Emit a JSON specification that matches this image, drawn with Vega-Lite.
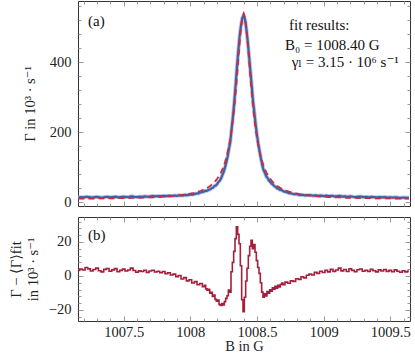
{
  "$schema": "https://vega.github.io/schema/vega-lite/v6.json",
  "padding": {"left": 8, "top": 0, "right": 6, "bottom": 0},
  "background": "white",
  "config": {
    "view": {"stroke": "#333", "strokeWidth": 1},
    "axis": {"domain": false, "grid": false, "labelFont": "Liberation Serif, DejaVu Serif, serif", "labelFontSize": 14.5, "labelColor": "#222", "titleFont": "Liberation Serif, DejaVu Serif, serif", "titleFontSize": 14.5, "titleFontWeight": "normal", "titleColor": "#222", "tickColor": "#999", "tickWidth": 1}
  },
  "datasets": {
    "m": [
      {"B":1007.16,"fit":9.68,"data":12.9,"res":3.2},
      {"B":1007.18,"fit":9.74,"data":13.8,"res":4.1},
      {"B":1007.20,"fit":9.80,"data":13.3,"res":3.5},
      {"B":1007.22,"fit":9.86,"data":14.9,"res":5.0},
      {"B":1007.24,"fit":9.92,"data":14.1,"res":4.2},
      {"B":1007.26,"fit":9.99,"data":12.9,"res":2.9},
      {"B":1007.28,"fit":10.06,"data":13.9,"res":3.8},
      {"B":1007.30,"fit":10.14,"data":14.7,"res":4.6},
      {"B":1007.32,"fit":10.22,"data":13.3,"res":3.1},
      {"B":1007.34,"fit":10.30,"data":12.7,"res":2.4},
      {"B":1007.36,"fit":10.39,"data":14.3,"res":3.9},
      {"B":1007.38,"fit":10.48,"data":14.9,"res":4.4},
      {"B":1007.40,"fit":10.58,"data":13.4,"res":2.8},
      {"B":1007.42,"fit":10.69,"data":14.3,"res":3.6},
      {"B":1007.44,"fit":10.80,"data":15.1,"res":4.3},
      {"B":1007.46,"fit":10.92,"data":13.4,"res":2.5},
      {"B":1007.48,"fit":11.05,"data":14.4,"res":3.3},
      {"B":1007.50,"fit":11.19,"data":15.2,"res":4.0},
      {"B":1007.52,"fit":11.33,"data":14.2,"res":2.9},
      {"B":1007.54,"fit":11.49,"data":15.0,"res":3.5},
      {"B":1007.56,"fit":11.66,"data":16.3,"res":4.6},
      {"B":1007.58,"fit":11.83,"data":15.0,"res":3.2},
      {"B":1007.60,"fit":12.03,"data":14.2,"res":2.2},
      {"B":1007.62,"fit":12.23,"data":15.2,"res":3.0},
      {"B":1007.64,"fit":12.46,"data":15.1,"res":2.6},
      {"B":1007.66,"fit":12.70,"data":16.1,"res":3.4},
      {"B":1007.68,"fit":12.96,"data":15.1,"res":2.1},
      {"B":1007.70,"fit":13.25,"data":16.2,"res":2.9},
      {"B":1007.72,"fit":13.56,"data":17.0,"res":3.4},
      {"B":1007.74,"fit":13.90,"data":16.2,"res":2.3},
      {"B":1007.76,"fit":14.27,"data":17.1,"res":2.8},
      {"B":1007.78,"fit":14.67,"data":16.6,"res":1.9},
      {"B":1007.80,"fit":15.12,"data":17.7,"res":2.6},
      {"B":1007.82,"fit":15.61,"data":17.0,"res":1.4},
      {"B":1007.84,"fit":16.15,"data":18.1,"res":1.9},
      {"B":1007.86,"fit":16.76,"data":17.4,"res":0.6},
      {"B":1007.88,"fit":17.43,"data":18.5,"res":1.1},
      {"B":1007.90,"fit":18.19,"data":17.8,"res":-0.4},
      {"B":1007.92,"fit":19.04,"data":19.3,"res":0.3},
      {"B":1007.94,"fit":20.00,"data":18.2,"res":-1.8},
      {"B":1007.96,"fit":21.08,"data":20.1,"res":-1.0},
      {"B":1007.98,"fit":22.32,"data":19.4,"res":-2.9},
      {"B":1008.00,"fit":23.75,"data":21.6,"res":-2.2},
      {"B":1008.02,"fit":25.39,"data":21.3,"res":-4.1},
      {"B":1008.04,"fit":27.31,"data":24.0,"res":-3.3},
      {"B":1008.06,"fit":29.55,"data":24.4,"res":-5.2},
      {"B":1008.08,"fit":32.20,"data":27.8,"res":-4.4},
      {"B":1008.10,"fit":35.36,"data":29.1,"res":-6.3},
      {"B":1008.11,"fit":37.18,"data":31.7,"res":-5.5},
      {"B":1008.12,"fit":39.18,"data":31.6,"res":-7.6},
      {"B":1008.13,"fit":41.38,"data":33.0,"res":-8.4},
      {"B":1008.14,"fit":43.81,"data":35.9,"res":-7.9},
      {"B":1008.15,"fit":46.52,"data":36.3,"res":-10.2},
      {"B":1008.16,"fit":49.54,"data":39.9,"res":-9.6},
      {"B":1008.17,"fit":52.92,"data":40.9,"res":-12.0},
      {"B":1008.18,"fit":56.72,"data":45.4,"res":-11.3},
      {"B":1008.19,"fit":61.0,"data":47.2,"res":-13.8},
      {"B":1008.20,"fit":65.84,"data":50.9,"res":-14.9},
      {"B":1008.21,"fit":71.35,"data":57.3,"res":-14.1},
      {"B":1008.22,"fit":77.63,"data":60.8,"res":-16.8},
      {"B":1008.23,"fit":84.83,"data":67.4,"res":-17.4},
      {"B":1008.24,"fit":93.15,"data":77.0,"res":-16.2},
      {"B":1008.25,"fit":102.78,"data":85.8,"res":-17.0},
      {"B":1008.26,"fit":114.0,"data":98.9,"res":-15.1},
      {"B":1008.27,"fit":127.1,"data":113.9,"res":-13.2},
      {"B":1008.28,"fit":142.5,"data":130.9,"res":-11.6},
      {"B":1008.29,"fit":160.8,"data":152.5,"res":-8.3},
      {"B":1008.30,"fit":182.3,"data":172.8,"res":-9.5},
      {"B":1008.31,"fit":207.8,"data":210.3,"res":2.5},
      {"B":1008.32,"fit":237.8,"data":245.8,"res":8.0},
      {"B":1008.33,"fit":273.0,"data":287.5,"res":14.5},
      {"B":1008.34,"fit":313.5,"data":335.5,"res":22.0},
      {"B":1008.35,"fit":358.9,"data":387.9,"res":29.0},
      {"B":1008.36,"fit":407.6,"data":432.1,"res":24.5},
      {"B":1008.37,"fit":455.8,"data":474.8,"res":19.0},
      {"B":1008.38,"fit":498.0,"data":504.0,"res":6.0},
      {"B":1008.39,"fit":527.4,"data":526.0,"res":-14.0},
      {"B":1008.40,"fit":538.0,"data":533.0,"res":-21.0},
      {"B":1008.41,"fit":527.4,"data":522.0,"res":-12.5},
      {"B":1008.42,"fit":498.0,"data":495.0,"res":-3.0},
      {"B":1008.43,"fit":455.8,"data":460.3,"res":4.5},
      {"B":1008.44,"fit":407.6,"data":419.6,"res":12.0},
      {"B":1008.45,"fit":358.9,"data":376.4,"res":17.5},
      {"B":1008.46,"fit":313.5,"data":334.5,"res":21.0},
      {"B":1008.47,"fit":273.0,"data":289.0,"res":16.0},
      {"B":1008.48,"fit":237.8,"data":256.3,"res":18.5},
      {"B":1008.49,"fit":207.8,"data":221.8,"res":14.0},
      {"B":1008.50,"fit":182.3,"data":191.3,"res":9.0},
      {"B":1008.51,"fit":160.8,"data":165.8,"res":5.0},
      {"B":1008.52,"fit":142.5,"data":144.0,"res":1.5},
      {"B":1008.53,"fit":127.1,"data":123.1,"res":-4.0},
      {"B":1008.54,"fit":114.0,"data":104.5,"res":-9.5},
      {"B":1008.55,"fit":102.78,"data":90.3,"res":-12.5},
      {"B":1008.56,"fit":93.15,"data":82.7,"res":-10.5},
      {"B":1008.57,"fit":84.83,"data":73.0,"res":-11.8},
      {"B":1008.58,"fit":77.63,"data":68.4,"res":-9.2},
      {"B":1008.59,"fit":71.35,"data":61.3,"res":-10.1},
      {"B":1008.60,"fit":65.84,"data":57.6,"res":-8.2},
      {"B":1008.61,"fit":61.0,"data":52.1,"res":-8.9},
      {"B":1008.62,"fit":56.72,"data":49.7,"res":-7.0},
      {"B":1008.63,"fit":52.92,"data":45.1,"res":-7.8},
      {"B":1008.64,"fit":49.54,"data":43.4,"res":-6.1},
      {"B":1008.65,"fit":46.52,"data":39.3,"res":-7.2},
      {"B":1008.66,"fit":43.81,"data":38.3,"res":-5.5},
      {"B":1008.67,"fit":41.38,"data":35.0,"res":-6.4},
      {"B":1008.68,"fit":39.18,"data":34.2,"res":-5.0},
      {"B":1008.69,"fit":37.18,"data":33.0,"res":-4.2},
      {"B":1008.70,"fit":35.36,"data":30.3,"res":-5.1},
      {"B":1008.72,"fit":32.20,"data":28.6,"res":-3.6},
      {"B":1008.74,"fit":29.55,"data":25.3,"res":-4.3},
      {"B":1008.76,"fit":27.31,"data":24.4,"res":-2.9},
      {"B":1008.78,"fit":25.39,"data":22.2,"res":-3.2},
      {"B":1008.80,"fit":23.75,"data":22.2,"res":-1.6},
      {"B":1008.82,"fit":22.32,"data":20.3,"res":-2.0},
      {"B":1008.84,"fit":21.08,"data":20.6,"res":-0.5},
      {"B":1008.86,"fit":20.00,"data":18.9,"res":-1.1},
      {"B":1008.88,"fit":19.04,"data":19.4,"res":0.4},
      {"B":1008.90,"fit":18.19,"data":19.4,"res":1.2},
      {"B":1008.92,"fit":17.43,"data":18.0,"res":0.6},
      {"B":1008.94,"fit":16.76,"data":18.9,"res":2.1},
      {"B":1008.96,"fit":16.15,"data":17.7,"res":1.5},
      {"B":1008.98,"fit":15.61,"data":18.4,"res":2.8},
      {"B":1009.00,"fit":15.12,"data":17.1,"res":2.0},
      {"B":1009.02,"fit":14.67,"data":18.0,"res":3.3},
      {"B":1009.04,"fit":14.27,"data":16.7,"res":2.4},
      {"B":1009.06,"fit":13.90,"data":17.8,"res":3.9},
      {"B":1009.08,"fit":13.56,"data":16.3,"res":2.7},
      {"B":1009.10,"fit":13.25,"data":16.8,"res":3.5},
      {"B":1009.12,"fit":12.96,"data":17.6,"res":4.6},
      {"B":1009.14,"fit":12.70,"data":15.7,"res":3.0},
      {"B":1009.16,"fit":12.46,"data":16.3,"res":3.8},
      {"B":1009.18,"fit":12.23,"data":14.8,"res":2.6},
      {"B":1009.20,"fit":12.03,"data":16.2,"res":4.2},
      {"B":1009.22,"fit":11.83,"data":15.1,"res":3.3},
      {"B":1009.24,"fit":11.66,"data":14.2,"res":2.5},
      {"B":1009.26,"fit":11.49,"data":15.2,"res":3.7},
      {"B":1009.28,"fit":11.33,"data":15.4,"res":4.1},
      {"B":1009.30,"fit":11.19,"data":14.0,"res":2.8},
      {"B":1009.32,"fit":11.05,"data":14.5,"res":3.4},
      {"B":1009.34,"fit":10.92,"data":13.5,"res":2.6},
      {"B":1009.36,"fit":10.80,"data":14.7,"res":3.9},
      {"B":1009.38,"fit":10.69,"data":13.8,"res":3.1},
      {"B":1009.40,"fit":10.58,"data":13.0,"res":2.4},
      {"B":1009.42,"fit":10.48,"data":14.1,"res":3.6},
      {"B":1009.44,"fit":10.39,"data":13.3,"res":2.9},
      {"B":1009.46,"fit":10.30,"data":14.1,"res":3.8},
      {"B":1009.48,"fit":10.22,"data":12.9,"res":2.7},
      {"B":1009.50,"fit":10.14,"data":13.4,"res":3.3},
      {"B":1009.52,"fit":10.06,"data":12.6,"res":2.5},
      {"B":1009.54,"fit":9.99,"data":13.6,"res":3.6},
      {"B":1009.56,"fit":9.92,"data":12.7,"res":2.8},
      {"B":1009.58,"fit":9.86,"data":12.1,"res":2.2},
      {"B":1009.60,"fit":9.80,"data":12.9,"res":3.1},
      {"B":1009.62,"fit":9.74,"data":12.1,"res":2.4},
      {"B":1009.64,"fit":9.68,"data":12.6,"res":2.9}
    ],
    "notesA": [
      {"B":1008.74,"G":506,"label":"fit results:"},
      {"B":1008.71,"G":449,"label":"B₀ = 1008.40 G"},
      {"B":1008.76,"G":400,"label":"γₗ = 3.15 · 10⁶ s⁻¹"}
    ],
    "panelA": [{"B":1007.232,"G":517,"label":"(a)"}],
    "panelB": [{"B":1007.232,"R":24,"label":"(b)"}]
  },
  "vconcat": [
    {
      "width": 332,
      "height": 205,
      "resolve": {"axis": {"x": "independent", "y": "independent"}},
      "layer": [
        {
          "data": {"name": "m"},
          "mark": {"type": "line", "color": "#bcc7e0", "strokeWidth": 4, "clip": true},
          "encoding": {
            "x": {"field": "B", "type": "quantitative", "scale": {"domain": [1007.157, 1009.648], "nice": false, "zero": false},
                  "axis": {"orient": "bottom", "values": [1007.5, 1008, 1008.5, 1009, 1009.5], "labels": false, "tickSize": -5, "title": null}},
            "y": {"field": "data", "type": "quantitative", "scale": {"domain": [-11.4, 574.3], "nice": false, "zero": false},
                  "axis": {"orient": "left", "values": [0, 200, 400], "ticks": false, "labelPadding": 7, "title": "Γ in 10³ · s⁻¹", "titlePadding": 12}}
          }
        },
        {
          "data": {"name": "m"},
          "mark": {"type": "line", "color": "#3d61a8", "strokeWidth": 2.2, "clip": true},
          "encoding": {
            "x": {"field": "B", "type": "quantitative",
                  "axis": {"orient": "top", "values": [1007.5, 1008, 1008.5, 1009, 1009.5], "labels": false, "tickSize": -5, "title": null}},
            "y": {"field": "data", "type": "quantitative",
                  "axis": {"orient": "left", "values": [0, 200, 400], "labels": false, "tickSize": -5, "title": null}}
          }
        },
        {
          "data": {"name": "m"},
          "mark": {"type": "line", "color": "#d1283f", "strokeWidth": 1.8, "strokeDash": [6, 4], "clip": true},
          "encoding": {
            "x": {"field": "B", "type": "quantitative",
                  "axis": {"orient": "bottom", "values": [1007.2, 1007.3, 1007.4, 1007.6, 1007.7, 1007.8, 1007.9, 1008.1, 1008.2, 1008.3, 1008.4, 1008.6, 1008.7, 1008.8, 1008.9, 1009.1, 1009.2, 1009.3, 1009.4, 1009.6], "labels": false, "tickSize": -3, "title": null}},
            "y": {"field": "fit", "type": "quantitative",
                  "axis": {"orient": "right", "values": [0, 200, 400], "labels": false, "tickSize": -5, "title": null}}
          }
        },
        {
          "data": {"name": "notesA"},
          "mark": {"type": "text", "align": "left", "baseline": "middle", "font": "Liberation Serif, DejaVu Serif, serif", "fontSize": 15, "color": "#111"},
          "encoding": {
            "x": {"field": "B", "type": "quantitative",
                  "axis": {"orient": "top", "values": [1007.2, 1007.3, 1007.4, 1007.6, 1007.7, 1007.8, 1007.9, 1008.1, 1008.2, 1008.3, 1008.4, 1008.6, 1008.7, 1008.8, 1008.9, 1009.1, 1009.2, 1009.3, 1009.4, 1009.6], "labels": false, "tickSize": -3, "title": null}},
            "y": {"field": "G", "type": "quantitative",
                  "axis": {"orient": "left", "values": [40, 80, 120, 160, 240, 280, 320, 360, 440, 480, 520, 560], "labels": false, "tickSize": -3, "title": null}},
            "text": {"field": "label"}
          }
        },
        {
          "data": {"name": "panelA"},
          "mark": {"type": "text", "align": "left", "baseline": "middle", "font": "Liberation Serif, DejaVu Serif, serif", "fontSize": 15, "color": "#111"},
          "encoding": {
            "x": {"field": "B", "type": "quantitative", "axis": null},
            "y": {"field": "G", "type": "quantitative",
                  "axis": {"orient": "right", "values": [40, 80, 120, 160, 240, 280, 320, 360, 440, 480, 520, 560], "labels": false, "tickSize": -3, "title": null}},
            "text": {"field": "label"}
          }
        }
      ]
    },
    {
      "width": 332,
      "height": 104,
      "resolve": {"axis": {"x": "independent", "y": "independent"}},
      "layer": [
        {
          "data": {"name": "m"},
          "mark": {"type": "line", "color": "#a51e3c", "strokeWidth": 1.6, "interpolate": "step", "clip": true},
          "encoding": {
            "x": {"field": "B", "type": "quantitative", "scale": {"domain": [1007.157, 1009.648], "nice": false, "zero": false},
                  "axis": {"orient": "bottom", "values": [1007.5, 1008, 1008.5, 1009, 1009.5], "ticks": false, "labelPadding": 4, "labelExpr": "'' + datum.value", "title": "B in G", "titlePadding": 1}},
            "y": {"field": "res", "type": "quantitative", "scale": {"domain": [-26.5, 34.7], "nice": false, "zero": false},
                  "axis": {"orient": "left", "values": [-20, 0, 20], "ticks": false, "labelPadding": 7, "labelExpr": "datum.value < 0 ? '−' + abs(datum.value) : '' + datum.value", "title": ["Γ − ⟨Γ⟩fit", "in 10³ · s⁻¹"], "titlePadding": 8}}
          }
        },
        {
          "data": {"name": "panelB"},
          "mark": {"type": "text", "align": "left", "baseline": "middle", "font": "Liberation Serif, DejaVu Serif, serif", "fontSize": 15, "color": "#111"},
          "encoding": {
            "x": {"field": "B", "type": "quantitative",
                  "axis": {"orient": "bottom", "values": [1007.5, 1008, 1008.5, 1009, 1009.5], "labels": false, "tickSize": -5, "title": null}},
            "y": {"field": "R", "type": "quantitative",
                  "axis": {"orient": "left", "values": [-20, 0, 20], "labels": false, "tickSize": -5, "title": null}},
            "text": {"field": "label"}
          }
        },
        {
          "data": {"name": "m"},
          "mark": {"type": "line", "strokeOpacity": 0, "clip": true},
          "encoding": {
            "x": {"field": "B", "type": "quantitative",
                  "axis": {"orient": "top", "values": [1007.5, 1008, 1008.5, 1009, 1009.5], "labels": false, "tickSize": -5, "title": null}},
            "y": {"field": "res", "type": "quantitative",
                  "axis": {"orient": "right", "values": [-20, 0, 20], "labels": false, "tickSize": -5, "title": null}}
          }
        },
        {
          "data": {"name": "m"},
          "mark": {"type": "line", "strokeOpacity": 0, "clip": true},
          "encoding": {
            "x": {"field": "B", "type": "quantitative",
                  "axis": {"orient": "bottom", "values": [1007.2, 1007.3, 1007.4, 1007.6, 1007.7, 1007.8, 1007.9, 1008.1, 1008.2, 1008.3, 1008.4, 1008.6, 1008.7, 1008.8, 1008.9, 1009.1, 1009.2, 1009.3, 1009.4, 1009.6], "labels": false, "tickSize": -3, "title": null}},
            "y": {"field": "res", "type": "quantitative",
                  "axis": {"orient": "left", "values": [-24, -16, -12, -8, -4, 4, 8, 12, 16, 24, 28, 32], "labels": false, "tickSize": -3, "title": null}}
          }
        },
        {
          "data": {"name": "m"},
          "mark": {"type": "line", "strokeOpacity": 0, "clip": true},
          "encoding": {
            "x": {"field": "B", "type": "quantitative",
                  "axis": {"orient": "top", "values": [1007.2, 1007.3, 1007.4, 1007.6, 1007.7, 1007.8, 1007.9, 1008.1, 1008.2, 1008.3, 1008.4, 1008.6, 1008.7, 1008.8, 1008.9, 1009.1, 1009.2, 1009.3, 1009.4, 1009.6], "labels": false, "tickSize": -3, "title": null}},
            "y": {"field": "res", "type": "quantitative",
                  "axis": {"orient": "right", "values": [-24, -16, -12, -8, -4, 4, 8, 12, 16, 24, 28, 32], "labels": false, "tickSize": -3, "title": null}}
          }
        }
      ]
    }
  ],
  "spacing": 6
}
